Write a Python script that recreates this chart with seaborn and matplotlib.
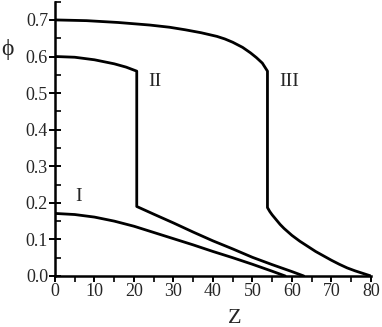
import pandas as pd
import matplotlib
matplotlib.use('Agg')
import matplotlib.pyplot as plt
import seaborn as sns
from matplotlib.ticker import MultipleLocator

sns.set_style('ticks')
plt.rcParams['font.family'] = ['Liberation Serif', 'DejaVu Serif']

# curve I
z1 = [0, 5, 10, 15, 20, 25, 30, 35, 40, 45, 50, 55, 58.3]
phi1 = [0.171, 0.168, 0.161, 0.150, 0.136, 0.119, 0.102, 0.085, 0.067, 0.050, 0.032, 0.013, 0.0]

# curve II (jump at z ~ 20.7)
z2 = [0, 5, 10, 15, 18, 20.7, 20.7, 25, 30, 35, 40, 45, 50, 55, 60, 63]
phi2 = [0.600, 0.598, 0.591, 0.580, 0.571, 0.560, 0.190, 0.169, 0.145, 0.120,
        0.096, 0.074, 0.051, 0.031, 0.012, 0.0]

# curve III (jump at z ~ 53.8)
z3 = [0, 8, 16, 24, 29, 33, 37, 41, 43, 45, 47.5, 49.5, 51, 52.5, 53.8, 53.8,
      54.4, 55, 56, 57, 58, 60, 62, 64, 66, 68, 70, 72, 74, 76, 78, 80]
phi3 = [0.700, 0.698, 0.693, 0.686, 0.680, 0.673, 0.665, 0.655, 0.648, 0.639,
        0.625, 0.610, 0.597, 0.582, 0.560, 0.187, 0.176, 0.167, 0.154, 0.141,
        0.130, 0.111, 0.095, 0.081, 0.067, 0.055, 0.043, 0.032, 0.022, 0.014,
        0.007, 0.0]

labels = ['I', 'II', 'III']
label_z = [6.0, 25.2, 59.2]
label_phi = [0.217, 0.531, 0.531]

fig = plt.figure(figsize=(3.82, 3.27), dpi=100)
ax = fig.add_axes([0.144, 0.156, 0.827, 0.839])

for z, phi in [(z1, phi1), (z2, phi2), (z3, phi3)]:
    df = pd.DataFrame({'z': z, 'phi': phi})
    sns.lineplot(data=df, x='z', y='phi', sort=False, estimator=None,
                 color='black', linewidth=2.0, ax=ax)

for lab, zx, py in zip(labels, label_z, label_phi):
    ax.text(zx, py, lab, fontsize=14, ha='center', va='center')

ax.set_xlim(0, 80)
ax.set_ylim(0, 0.75)
ax.xaxis.set_major_locator(MultipleLocator(10))
ax.xaxis.set_minor_locator(MultipleLocator(5))
ax.yaxis.set_major_locator(MultipleLocator(0.1))
ax.yaxis.set_minor_locator(MultipleLocator(0.05))
ax.set_yticks([0, 0.1, 0.2, 0.3, 0.4, 0.5, 0.6, 0.7])
ax.set_yticklabels(['0.0', '0.1', '0.2', '0.3', '0.4', '0.5', '0.6', '0.7'])

ax.tick_params(axis='both', which='major', labelsize=13, width=1.4, length=4,
               color='black', pad=1)
ax.tick_params(axis='x', which='both', direction='out')
ax.tick_params(axis='x', which='minor', length=4, width=1.4)
ax.tick_params(axis='y', which='major', direction='inout', length=8)
ax.tick_params(axis='y', which='minor', direction='in', length=4, width=1.4)

for side in ['top', 'right']:
    ax.spines[side].set_visible(False)
for side in ['left', 'bottom']:
    ax.spines[side].set_linewidth(1.8)
    ax.spines[side].set_color('black')

ax.set_xlabel('Z', fontsize=16)
ax.xaxis.set_label_coords(0.57, -0.122)
ax.set_ylabel('')
ax.text(-0.152, 0.62, 'ϕ', fontsize=17, ha='center', va='center',
        transform=ax.get_yaxis_transform())

fig.savefig('out.png', dpi=100)
